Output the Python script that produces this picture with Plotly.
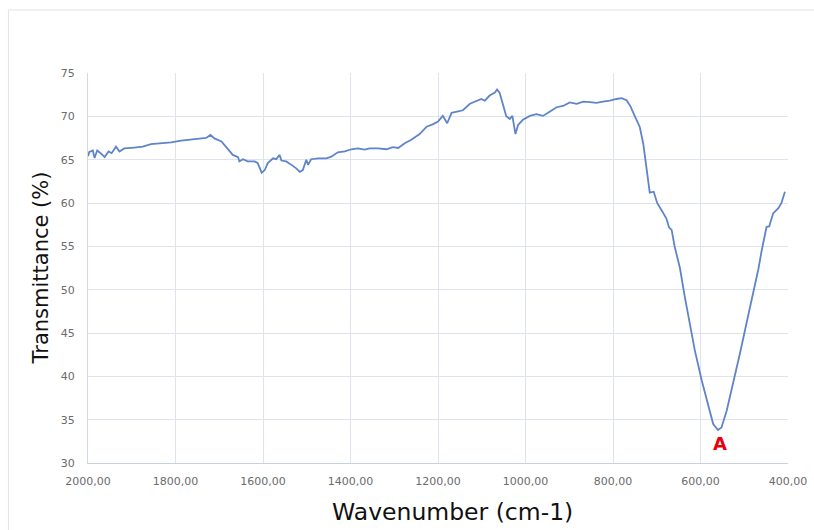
import plotly.graph_objects as go

# FTIR spectrum: wavenumber (cm-1) vs transmittance (%)
wavenumber = [
    2000, 1997, 1989, 1985, 1979, 1971, 1962, 1953, 1946, 1936, 1928, 1917,
    1894, 1875, 1856, 1833, 1810, 1787, 1764, 1741, 1730, 1720, 1711, 1695,
    1680, 1669, 1657, 1654, 1646, 1635, 1619, 1612, 1603, 1596, 1589, 1577,
    1570, 1562, 1558, 1547, 1535, 1524, 1516, 1509, 1501, 1497, 1490, 1474,
    1455, 1444, 1429, 1413, 1398, 1383, 1368, 1356, 1337, 1318, 1303, 1291,
    1276, 1261, 1242, 1226, 1211, 1200, 1189, 1179, 1169, 1158, 1143, 1127,
    1112, 1101, 1093, 1082, 1070, 1065, 1059, 1051, 1044, 1036, 1030, 1023,
    1017, 1006, 990, 975, 960, 944, 929, 914, 899, 883, 868, 853,
    838, 823, 807, 792, 780, 769, 760, 750, 739, 731, 725, 720,
    716, 707, 699, 687, 678, 672, 666, 659, 647, 636, 624, 613,
    597, 582, 571, 560, 552, 540, 525, 510, 495, 480, 468, 460,
    449, 443, 434, 422, 415, 407,
]
transmittance = [
    65.4, 65.9, 66.05, 65.2, 66.05, 65.75, 65.3, 65.95, 65.75, 66.5, 65.95, 66.3,
    66.4, 66.5, 66.8, 66.9, 67.0, 67.2, 67.35, 67.5, 67.5, 67.85, 67.45, 67.1,
    66.15, 65.55, 65.3, 64.8, 65.05, 64.8, 64.8, 64.6, 63.5, 63.8, 64.6, 65.15,
    65.05, 65.55, 64.9, 64.8, 64.4, 64.0, 63.6, 63.8, 65.0, 64.4, 65.05, 65.15,
    65.15, 65.35, 65.85, 65.95, 66.2, 66.3, 66.15, 66.3, 66.3, 66.2, 66.45, 66.35,
    66.9, 67.3, 67.95, 68.8, 69.1, 69.4, 70.05, 69.2, 70.4, 70.55, 70.7, 71.45,
    71.8, 72.0, 71.8, 72.4, 72.75, 73.1, 72.7, 71.15, 70.0, 69.7, 70.05, 67.95,
    69.0, 69.6, 70.05, 70.25, 70.05, 70.55, 71.05, 71.2, 71.6, 71.45, 71.7, 71.65,
    71.55, 71.7, 71.8, 72.0, 72.1, 71.85, 71.15, 70.0, 68.8, 66.9, 64.6, 62.3,
    61.2, 61.3, 60.0, 59.0, 58.2, 57.2, 56.9, 54.95, 52.5, 49.2, 45.7, 43.0,
    39.5, 36.45, 34.5, 33.8, 34.1, 36.05, 39.15, 42.6, 46.1, 49.55, 52.3, 54.55,
    57.25, 57.3, 58.8, 59.4, 60.0, 61.3,
]

x_ticks = [2000, 1800, 1600, 1400, 1200, 1000, 800, 600, 400]
x_tick_labels = ["2000,00", "1800,00", "1600,00", "1400,00", "1200,00",
                 "1000,00", "800,00", "600,00", "400,00"]
y_ticks = [30, 35, 40, 45, 50, 55, 60, 65, 70, 75]

peak_label = "A"
peak_wn = 556
peak_label_t = 32.2

grid = "#dfe3ec"
tick_font = dict(family="DejaVu Sans", size=11, color="#6b6b6b")

fig = go.Figure()
fig.add_trace(go.Scatter(
    x=wavenumber, y=transmittance, mode="lines",
    line=dict(color="#5f84c9", width=1.8),
    hoverinfo="skip", showlegend=False,
))

fig.update_xaxes(
    range=[2000, 400], tickvals=x_ticks, ticktext=x_tick_labels,
    showgrid=True, gridcolor=grid, gridwidth=1,
    showline=True, linecolor="#c8cfe0", linewidth=1,
    zeroline=False, ticks="", tickfont=tick_font, ticklabelstandoff=8,
    automargin=False,
)
fig.update_yaxes(
    range=[30, 75], tickvals=y_ticks,
    showgrid=True, gridcolor=grid, gridwidth=1,
    showline=True, linecolor="#d3d8e6", linewidth=1,
    zeroline=False, ticks="", tickfont=tick_font, ticklabelstandoff=10,
    automargin=False,
)

# light frame around the whole chart
fig.add_shape(type="rect", xref="paper", yref="paper",
              x0=-0.1137, x1=1.2, y0=-0.3, y1=1.1615,
              line=dict(color="#e2e2e2", width=1), layer="below")

fig.add_annotation(x=peak_wn, y=peak_label_t, text=f"<b>{peak_label}</b>",
                   showarrow=False, font=dict(family="DejaVu Sans", size=18, color="#e8000b"))

fig.add_annotation(x=0.521, y=-0.1256, xref="paper", yref="paper",
                   text="Wavenumber (cm-1)", showarrow=False,
                   xanchor="center", yanchor="middle",
                   font=dict(family="DejaVu Sans", size=23.5, color="#111111"))
fig.add_annotation(x=-0.0665, y=0.5, xref="paper", yref="paper",
                   text="Transmittance (%)", showarrow=False, textangle=-90,
                   xanchor="center", yanchor="middle",
                   font=dict(family="DejaVu Sans", size=21, color="#111111"))

fig.update_layout(
    width=814, height=530,
    margin=dict(l=88, r=26, t=73, b=67),
    paper_bgcolor="white", plot_bgcolor="white",
)

fig.write_html("out.html")
